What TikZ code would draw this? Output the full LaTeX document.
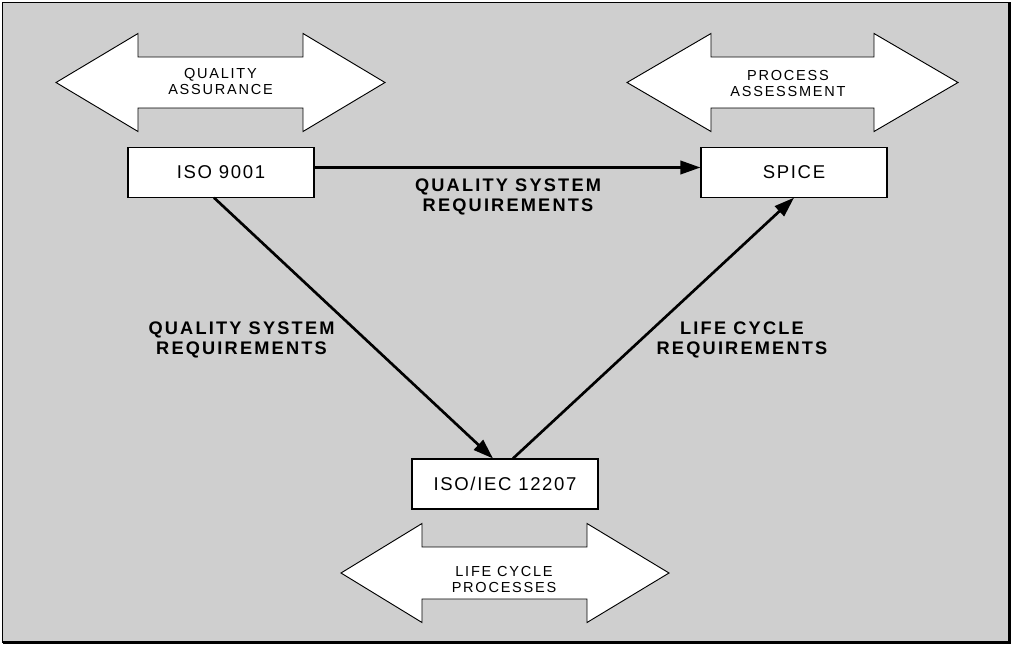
\documentclass[tikz,border=0pt]{standalone}
\usepackage{fontspec}
\setmainfont{Liberation Sans}
\newfontfamily\trackfont{Liberation Sans}[LetterSpace=12]
\newfontfamily\boxfont{Liberation Sans}[LetterSpace=9]
\usetikzlibrary{arrows.meta}
\definecolor{panel}{RGB}{207,207,207}
\tikzset{
	box/.style={draw, fill=white, line width=0.8pt, minimum width=139.5pt, minimum height=37pt, inner sep=0pt, font=\boxfont\fontsize{13.9}{15}\selectfont},
	flow/.style={line width=2pt, -{Triangle[length=15pt, width=10pt]}},
	bigarrow/.style={draw, fill=white, line width=0.7pt, line join=miter},
	arrowtext/.style={align=center, inner sep=0pt, font=\trackfont\fontsize{10.9}{12}\selectfont},
	reqtext/.style={align=center, inner sep=0pt, font=\trackfont\bfseries\fontsize{13.65}{15}\selectfont}
}

\begin{document}
\begin{tikzpicture}[x=0.75pt, y=-0.75pt]
	\useasboundingbox (0,0) rectangle (1012,645);
	\draw[fill=panel, line width=0.8pt] (2.5,2.5) rectangle (1009.5,642.5);
	\draw[line width=1.6pt] (1009.5,2.5) -- (1009.5,642.5) -- (2.5,642.5);

	\draw[bigarrow] (56,82.5) -- (138,33.5) -- (138,57) -- (303,57) -- (303,33.5) -- (385,82.5) -- (303,131.5) -- (303,108) -- (138,108) -- (138,131.5) -- cycle;
	\node[arrowtext] (qa) at (220.5,81.5) {QUALITY\\ASSURANCE};
	\draw[bigarrow] (627,82.5) -- (711,33.5) -- (711,57) -- (874,57) -- (874,33.5) -- (958,82.5) -- (874,131.5) -- (874,108) -- (711,108) -- (711,131.5) -- cycle;
	\node[arrowtext] (pa) at (788,83.5) {PROCESS\\ASSESSMENT};
	\draw[bigarrow] (341,573) -- (422,523.5) -- (422,547) -- (587,547) -- (587,523.5) -- (669,573) -- (587,622.5) -- (587,599) -- (422,599) -- (422,622.5) -- cycle;
	\node[arrowtext] (lcp) at (504,579) {LIFE CYCLE\\PROCESSES};

	\node[box] (iso) at (221,172.5) {ISO 9001};
	\node[box] (spice) at (794,172.5) {SPICE};
	\node[box, minimum height=37.5pt] (std) at (505,484) {ISO/IEC 12207};

	\draw[flow] ([yshift=3.75pt]iso.east) -- ([yshift=3.75pt]spice.west);
	\draw[flow] ([xshift=-5.25pt]iso.south) -- ([xshift=-9pt]std.north);
	\draw[flow] ([xshift=6pt]std.north) -- (spice.south);

	\node[reqtext] (req1) at (508,196.5) {QUALITY SYSTEM\\REQUIREMENTS};
	\node[reqtext] (req2) at (241.5,339.5) {QUALITY SYSTEM\\REQUIREMENTS};
	\node[reqtext] (req3) at (742,339.5) {LIFE CYCLE\\REQUIREMENTS};
\end{tikzpicture}
\end{document}
